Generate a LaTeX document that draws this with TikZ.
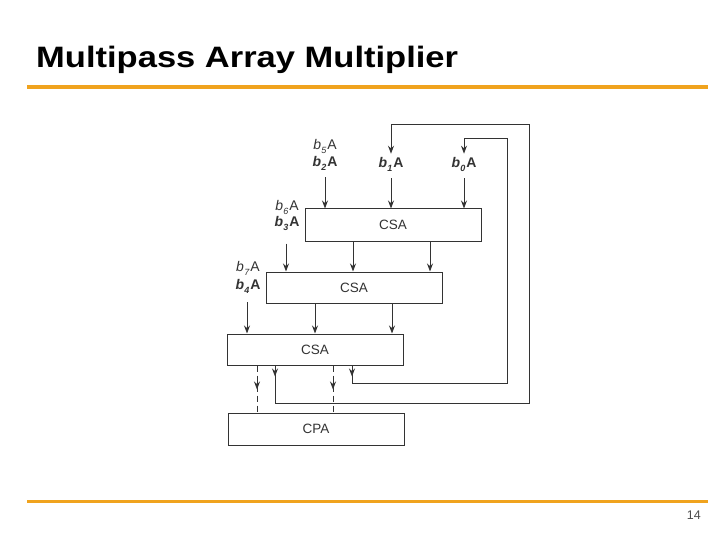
\documentclass[tikz,border=0pt]{standalone}
\usepackage{fontspec}
\setmainfont{Liberation Sans}
\newfontfamily\titlefont[FakeStretch=1.17]{Liberation Sans}
\usetikzlibrary{arrows.meta}
\definecolor{gold}{HTML}{F0A31E}
\definecolor{ink}{HTML}{333333}
\newcommand\bLab[2]{\textit{b}\kern0.3pt\raisebox{-4pt}{\fontsize{9}{9}\selectfont\textit{#1}}\kern0.8pt#2}
\begin{document}
\begin{tikzpicture}[x=1pt,y=-1pt,
  box/.style={draw=ink, line width=1pt, fill=white, minimum width=176pt, minimum height=32pt, inner sep=0pt, font=\fontsize{13.5}{13.5}\selectfont, text=ink},
  wire/.style={draw=ink, line width=1pt},
  arr/.style={wire, -{Stealth[length=8pt,width=6pt]}},
  dsh/.style={wire, dash pattern=on 6pt off 4pt},
  lbl/.style={font=\fontsize{14}{14}\selectfont, text=ink, inner sep=0pt},
  rule/.style={draw=gold, line width=3.5pt}]
\useasboundingbox (0,0) rectangle (720,540);
% title and rules
\node[anchor=base west, inner sep=0pt, font=\titlefont\bfseries\fontsize{29.5}{29.5}\selectfont] (title) at (36,68) {Multipass Array Multiplier};
\coordinate (r1a) at (27,87); \coordinate (r1b) at (708,87);
\draw[rule] (r1a) -- (r1b);
\coordinate (r2a) at (27,501); \coordinate (r2b) at (708,501);
\draw[rule, line width=3pt] (r2a) -- (r2b);
\node[font=\fontsize{12.5}{12.5}\selectfont, text=black!70, inner sep=0pt, anchor=base east] (pg) at (701,519) {14};
% boxes
\node[box] (csa1) at (393,225) {CSA};
\node[box, minimum height=31pt] (csa2) at (354,287.5) {CSA};
\node[box, minimum height=31pt] (csa3) at (315,349.5) {CSA};
\node[box] (cpa) at (316,429) {CPA};
% labels
\node[lbl] (l5) at (325,146) {\bLab{5}{A}};
\node[lbl] (l2) at (325,163) {\bfseries\bLab{2}{A}};
\node[lbl] (l1) at (391,164) {\bfseries\bLab{1}{A}};
\node[lbl] (l0) at (464,164) {\bfseries\bLab{0}{A}};
\node[lbl] (l6) at (287,207) {\bLab{6}{A}};
\node[lbl] (l3) at (287,223) {\bfseries\bLab{3}{A}};
\node[lbl] (l7) at (248,268) {\bLab{7}{A}};
\node[lbl] (l4) at (248,286) {\bfseries\bLab{4}{A}};
% inputs to CSA1
\draw[arr] (l2.south -| 325,0) ++(0,7) -- (csa1.north -| 325,0);
\draw[arr] (l1.south -| 391,0) ++(0,7) -- (csa1.north -| 391,0);
\draw[arr] (l0.south -| 464,0) ++(0,7) -- (csa1.north -| 464,0);
% CSA1 -> CSA2
\draw[arr] (csa1.south -| 286,0) ++(0,2) -- (csa2.north -| 286,0);
\draw[arr] (csa1.south -| 353,0) -- (csa2.north -| 353,0);
\draw[arr] (csa1.south -| 430,0) -- (csa2.north -| 430,0);
% CSA2 -> CSA3
\draw[arr] (l4.south -| 247,0) ++(0,9) -- (csa3.north -| 247,0);
\draw[arr] (csa2.south -| 315,0) -- (csa3.north -| 315,0);
\draw[arr] (csa2.south -| 392,0) -- (csa3.north -| 392,0);
% feedback loops
\draw[arr] (csa3.south -| 275,0) -- (275,403) -- (529,403) -- (529,125) -- (391,125) -- ([yshift=3pt]l1.north -| 391,0);
\draw[arr] (csa3.south -| 275,0) -- ++(0,11);
\draw[arr] (csa3.south -| 352,0) -- (352,383) -- (507,383) -- (507,139) -- (464,139) -- ([yshift=3pt]l0.north -| 464,0);
\draw[arr] (csa3.south -| 352,0) -- ++(0,11);
% dashed to CPA
\draw[dsh] (csa3.south -| 257,0) -- (cpa.north -| 257,0);
\draw[dsh] (csa3.south -| 333,0) -- (cpa.north -| 333,0);
\draw[arr] (csa3.south -| 257,0) ++(0,12) -- ++(0,12);
\draw[arr] (csa3.south -| 333,0) ++(0,12) -- ++(0,12);
\end{tikzpicture}
\end{document}
